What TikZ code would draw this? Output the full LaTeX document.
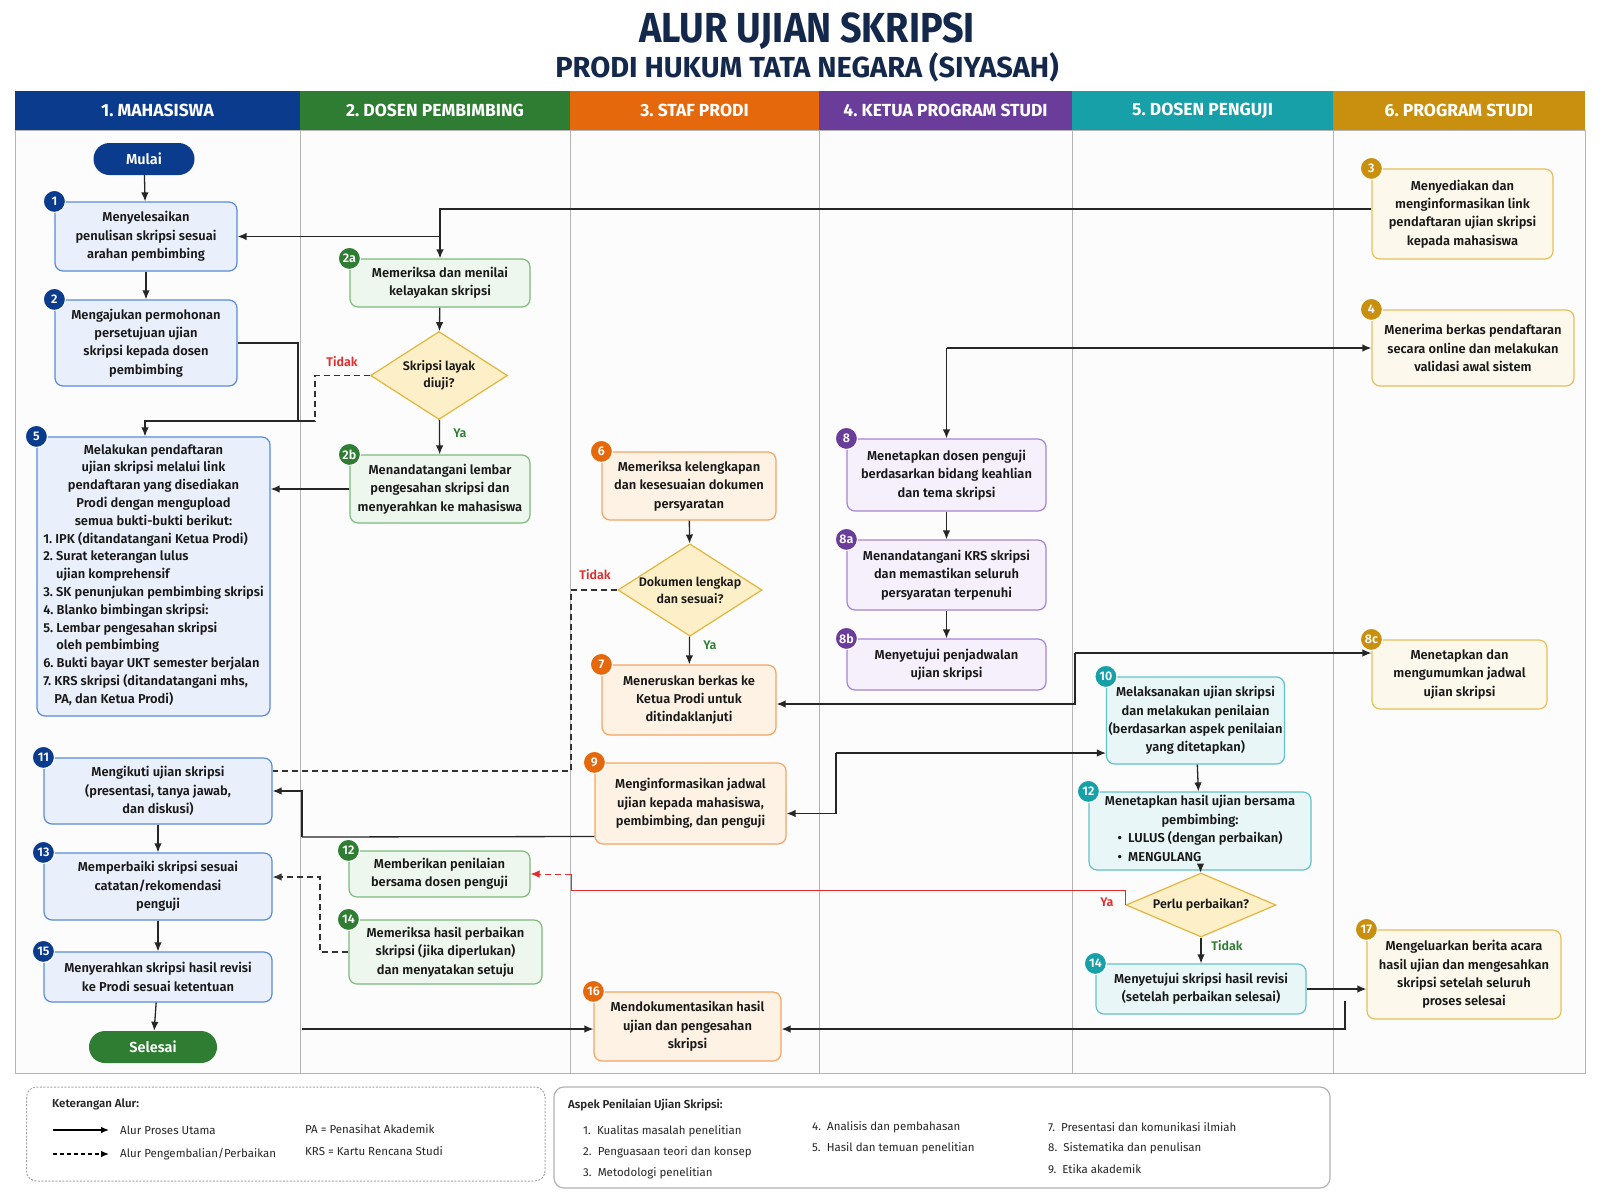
\documentclass[tikz,border=0pt]{standalone}
\usepackage{fontspec}
\setmainfont{Fira Sans}[BoldFont={Fira Sans SemiBold}]
\newfontfamily\titlefont{Fira Sans}[FakeStretch=0.9]
\newfontfamily\headfont{Fira Sans}
\usetikzlibrary{arrows.meta,shapes.geometric}

\definecolor{cTitle}{HTML}{14284B}
\definecolor{cNavy}{HTML}{0B3B8C}
\definecolor{cGreen}{HTML}{2E7D32}
\definecolor{cOrange}{HTML}{E5680C}
\definecolor{cPurple}{HTML}{6A3D9A}
\definecolor{cTeal}{HTML}{17A0A8}
\definecolor{cGold}{HTML}{C8900E}
\definecolor{fBlue}{HTML}{E9F0FB}
\definecolor{dBlue}{HTML}{5A8BD8}
\definecolor{fGreen}{HTML}{EEF7EE}
\definecolor{dGreen}{HTML}{7DBA7D}
\definecolor{fOrange}{HTML}{FEF2E4}
\definecolor{dOrange}{HTML}{F2A563}
\definecolor{fPurple}{HTML}{F5F0FB}
\definecolor{dPurple}{HTML}{A585D3}
\definecolor{fTeal}{HTML}{E8F6F7}
\definecolor{dTeal}{HTML}{62C2C8}
\definecolor{fGold}{HTML}{FDF8EC}
\definecolor{dGold}{HTML}{E6BF5C}
\definecolor{fYel}{HTML}{FDF0C8}
\definecolor{dYel}{HTML}{E2B53C}
\definecolor{cRed}{HTML}{E52B2B}
\definecolor{cLine}{HTML}{B4B4B4}

\tikzset{
    TT/.style ={text=cTitle, font=\titlefont\bfseries\fontsize{42}{44}\selectfont},
    ST/.style ={text=cTitle, font=\headfont\bfseries\fontsize{29}{32}\selectfont},
    HD/.style ={rectangle, minimum height=39, inner sep=0pt, text=white, font=\headfont\bfseries\fontsize{17.5}{20}\selectfont},
    BX/.style ={rectangle, rounded corners=8pt, line width=1.2pt, align=center, inner sep=2pt, text=black!90, font=\bfseries\fontsize{12.9}{18.4}\selectfont},
    BX1/.style ={BX, draw=dBlue, fill=fBlue},
    BX2/.style ={BX, draw=dGreen, fill=fGreen},
    BX3/.style ={BX, draw=dOrange, fill=fOrange},
    BX4/.style ={BX, draw=dPurple, fill=fPurple},
    BX5/.style ={BX, draw=dTeal, fill=fTeal},
    BX6/.style ={BX, draw=dGold, fill=fGold},
    DM/.style ={diamond, draw=dYel, fill=fYel, line width=1.2pt, align=center, inner sep=0pt, text=black!90, font=\bfseries\fontsize{12.5}{17}\selectfont},
    BG/.style ={circle, minimum size=22pt, inner sep=1pt, draw=white, line width=1pt, text=white, font=\bfseries\fontsize{12.5}{13}\selectfont},
    PL/.style ={rectangle, rounded corners=16pt, minimum height=32, text=white, font=\bfseries\fontsize{14.5}{16}\selectfont},
    LB/.style ={font=\bfseries\fontsize{12.5}{14}\selectfont},
    LG/.style ={anchor=west, inner sep=0pt, text=black!85, font=\fontsize{11.5}{13}\selectfont},
    FL/.style ={draw=black!85, line width=1.3pt, ->},
    LN/.style ={draw=black!85, line width=1.3pt},
    BK/.style ={draw=black!80, line width=1.2pt, dash pattern=on 6pt off 4pt},
    RD/.style ={draw=cRed, line width=1pt}}

\begin{document}
\frenchspacing
\begin{tikzpicture}[x=1pt,y=-1pt,>={Latex[length=9pt,width=7.5pt]}]
        \useasboundingbox (0,0) rectangle (1600,1200);
        \fill[white] (0,0) rectangle (1600,1200);
        % judul
        \node[TT] (title) at (807,31) {ALUR UJIAN SKRIPSI};
        \node[ST] (sub) at (807,67) {PRODI HUKUM TATA NEGARA (SIYASAH)};
        % lajur
        \fill[black!1] (15,130) rectangle (1585,1073);
        \draw[cLine, line width=1pt] (15,130) rectangle (1585,1073);
        \draw[cLine, line width=1pt] (300,130) -- (300,1073);
        \draw[cLine, line width=1pt] (570,130) -- (570,1073);
        \draw[cLine, line width=1pt] (819,130) -- (819,1073);
        \draw[cLine, line width=1pt] (1072,130) -- (1072,1073);
        \draw[cLine, line width=1pt] (1333,130) -- (1333,1073);
        \node[HD, fill=cNavy, minimum width=285] (h1) at (157.5,110.5) {1. MAHASISWA};
        \node[HD, fill=cGreen, minimum width=270] (h2) at (435,110.5) {2. DOSEN PEMBIMBING};
        \node[HD, fill=cOrange, minimum width=249] (h3) at (694.5,110.5) {3. STAF PRODI};
        \node[HD, fill=cPurple, minimum width=253] (h4) at (945.5,110.5) {4. KETUA PROGRAM STUDI};
        \node[HD, fill=cTeal, minimum width=261] (h5) at (1202.5,110.5) {5. DOSEN PENGUJI};
        \node[HD, fill=cGold, minimum width=252] (h6) at (1459,110.5) {6. PROGRAM STUDI};
        % 1. mahasiswa
        \node[PL, fill=cNavy, minimum width=101] (mulai) at (144,159) {Mulai};
        \node[BX1, minimum width=182, minimum height=69] (1) at (146,236.5) {Menyelesaikan\\penulisan skripsi sesuai\\arahan pembimbing};
        \node[BX1, minimum width=182, minimum height=86] (2) at (146,343) {Mengajukan permohonan\\persetujuan ujian\\skripsi kepada dosen\\pembimbing};
        \node[BX1, minimum width=233, minimum height=279, font=\bfseries\fontsize{12.9}{17.8}\selectfont] (5) at (153.5,576.5) {Melakukan pendaftaran\\ujian skripsi melalui link\\pendaftaran yang disediakan\\Prodi dengan mengupload\\semua bukti-bukti berikut:\\
            \begin{tabular}[t]{@{}l@{}}1. IPK (ditandatangani Ketua Prodi)\\2. Surat keterangan lulus\\\phantom{2. }ujian komprehensif\\3. SK penunjukan pembimbing skripsi\\4. Blanko bimbingan skripsi:\\5. Lembar pengesahan skripsi\\\phantom{5. }oleh pembimbing\\6. Bukti bayar UKT semester berjalan\\7. KRS skripsi (ditandatangani mhs,\\\phantom{7. }PA, dan Ketua Prodi)\end{tabular}};
        \node[BX1, minimum width=228, minimum height=66] (11) at (158,791) {Mengikuti ujian skripsi\\(presentasi, tanya jawab,\\dan diskusi)};
        \node[BX1, minimum width=228, minimum height=67] (13) at (158,886.5) {Memperbaiki skripsi sesuai\\catatan/rekomendasi\\penguji};
        \node[BX1, minimum width=228, minimum height=50] (15) at (158,977) {Menyerahkan skripsi hasil revisi\\ke Prodi sesuai ketentuan};
        \node[PL, fill=cGreen, minimum width=128] (selesai) at (153,1047) {Selesai};
        % 2. dosen pembimbing
        \node[BX2, minimum width=180, minimum height=48] (2a) at (440,283) {Memeriksa dan menilai\\kelayakan skripsi};
        \node[DM, aspect=1.56, minimum width=137, minimum height=88] (d1) at (439,375.5) {Skripsi layak\\diuji?};
        \node[BX2, minimum width=180, minimum height=68] (2b) at (440,489) {Menandatangani lembar\\pengesahan skripsi dan\\menyerahkan ke mahasiswa};
        \node[BX2, minimum width=181, minimum height=46] (12g) at (439.5,874) {Memberikan penilaian\\bersama dosen penguji};
        \node[BX2, minimum width=193, minimum height=64] (14g) at (445.5,952) {Memeriksa hasil perbaikan\\skripsi (jika diperlukan)\\dan menyatakan setuju};
        % 3. staf prodi
        \node[BX3, minimum width=174, minimum height=68] (6) at (689,486) {Memeriksa kelengkapan\\dan kesesuaian dokumen\\persyaratan};
        \node[DM, aspect=1.56, minimum width=140, minimum height=90] (d2) at (690,590) {Dokumen lengkap\\dan sesuai?};
        \node[BX3, minimum width=174, minimum height=70] (7) at (689,700) {Meneruskan berkas ke\\Ketua Prodi untuk\\ditindaklanjuti};
        \node[BX3, minimum width=191, minimum height=81] (9) at (690.5,803.5) {Menginformasikan jadwal\\ujian kepada mahasiswa,\\pembimbing, dan penguji};
        \node[BX3, minimum width=187, minimum height=69] (16) at (687.5,1026.5) {Mendokumentasikan hasil\\ujian dan pengesahan\\skripsi};
        % 4. ketua program studi
        \node[BX4, minimum width=199, minimum height=72] (8) at (946.5,475) {Menetapkan dosen penguji\\berdasarkan bidang keahlian\\dan tema skripsi};
        \node[BX4, minimum width=199, minimum height=70] (8a) at (946.5,575) {Menandatangani KRS skripsi\\dan memastikan seluruh\\persyaratan terpenuhi};
        \node[BX4, minimum width=199, minimum height=51] (8b) at (946.5,664.5) {Menyetujui penjadwalan\\ujian skripsi};
        % 5. dosen penguji
        \node[BX5, minimum width=173, minimum height=87] (10) at (1195.5,720.5) {Melaksanakan ujian skripsi\\dan melakukan penilaian\\(berdasarkan aspek penilaian\\yang ditetapkan)};
        \node[BX5, minimum width=222, minimum height=78] (12t) at (1200,831) {Menetapkan hasil ujian bersama\\pembimbing:\\\begin{tabular}[t]{@{}l@{}}\textbullet\ \ LULUS (dengan perbaikan)\\\textbullet\ \ MENGULANG\end{tabular}};
        \node[DM, aspect=2.34, minimum width=150, minimum height=64] (d3) at (1201,905) {Perlu perbaikan?};
        \node[BX5, minimum width=210, minimum height=50] (14t) at (1201,989) {Menyetujui skripsi hasil revisi\\(setelah perbaikan selesai)};
        % 6. program studi
        \node[BX6, minimum width=181, minimum height=90] (3) at (1462.5,214) {Menyediakan dan\\menginformasikan link\\pendaftaran ujian skripsi\\kepada mahasiswa};
        \node[BX6, minimum width=202, minimum height=76] (4) at (1473,348) {Menerima berkas pendaftaran\\secara online dan melakukan\\validasi awal sistem};
        \node[BX6, minimum width=175, minimum height=69] (8c) at (1459.5,674.5) {Menetapkan dan\\mengumumkan jadwal\\ujian skripsi};
        \node[BX6, minimum width=194, minimum height=89] (17) at (1464,974.5) {Mengeluarkan berita acara\\hasil ujian dan mengesahkan\\skripsi setelah seluruh\\proses selesai};
        % nomor langkah
        \node[BG, fill=cNavy] (b1) at (1.north west) {1};
        \node[BG, fill=cNavy] (b2) at (2.north west) {2};
        \node[BG, fill=cNavy] (b5) at (5.north west) {5};
        \node[BG, fill=cNavy] (b11) at (11.north west) {11};
        \node[BG, fill=cNavy] (b13) at (13.north west) {13};
        \node[BG, fill=cNavy] (b15) at (15.north west) {15};
        \node[BG, fill=cGreen] (b2a) at (2a.north west) {2a};
        \node[BG, fill=cGreen] (b2b) at (2b.north west) {2b};
        \node[BG, fill=cGreen] (b12g) at (12g.north west) {12};
        \node[BG, fill=cGreen] (b14g) at (14g.north west) {14};
        \node[BG, fill=cOrange] (b6) at (6.north west) {6};
        \node[BG, fill=cOrange] (b7) at (7.north west) {7};
        \node[BG, fill=cOrange] (b9) at (9.north west) {9};
        \node[BG, fill=cOrange] (b16) at (16.north west) {16};
        \node[BG, fill=cPurple] (b8) at (8.north west) {8};
        \node[BG, fill=cPurple] (b8a) at (8a.north west) {8a};
        \node[BG, fill=cPurple] (b8b) at (8b.north west) {8b};
        \node[BG, fill=cTeal] (b10) at (10.north west) {10};
        \node[BG, fill=cTeal] (b12t) at (12t.north west) {12};
        \node[BG, fill=cTeal] (b14t) at (14t.north west) {14};
        \node[BG, fill=cGold] (b3) at (3.north west) {3};
        \node[BG, fill=cGold] (b4) at (4.north west) {4};
        \node[BG, fill=cGold] (b8c) at (8c.north west) {8c};
        \node[BG, fill=cGold] (b17) at (17.north west) {17};
        % titik belok
        \coordinate (j2) at (298,421);
        \coordinate (j2b) at (315,421);
        \coordinate (j4) at (8.north |- 4.west);
        \coordinate (j6) at (571,771);
        \coordinate (j8) at (1075,653);
        \coordinate (j9) at (836,753);
        \coordinate (j11) at (302,837);
        \coordinate (j12) at (571,890);
        \coordinate (j12c) at (571,874);
        \coordinate (j14) at (320,877);
        \coordinate (j15) at (302,1029);
        \coordinate (j16) at (1345,1001);
        % alur
        \draw[FL] (mulai) -- (1);
        \draw[FL] (1) -- (2);
        \draw[FL] ([yshift=5pt]3.west) -| (2a.north);
        \draw[FL] (2a.north |- 1.east) -- (1.east);
        \draw[LN] (2.east) -| (j2) -- (j2b);
        \draw[FL] (j2b) -| ([xshift=-8.5pt]5.north);
        \draw[BK] (d1.west) -| (j2b);
        \draw[FL] (2a) -- (d1);
        \draw[FL] (d1) -- (2b);
        \draw[FL] (2b.west) -- (2b.west -| 5.east);
        \draw[FL] (j4) -- (4.west);
        \draw[FL] (j4) -- (8.north);
        \draw[FL] (6) -- (d2);
        \draw[FL] (d2) -- (7);
        \draw[BK] (d2.west) -| (j6) -- (j6 -| 11.east);
        \draw[FL] (8) -- (8a);
        \draw[FL] (8a) -- (8b);
        \draw[FL] (j8) -- (j8 -| 8c.west);
        \draw[FL] (j8) |- ([yshift=-4pt]7.east);
        \draw[FL] (j9) -- (j9 -| 10.west);
        \draw[FL] (j9) |- ([yshift=-10pt]9.east);
        \draw[LN] ([yshift=-33pt]9.west) -- (j11);
        \draw[FL] (j11) |- (11.east);
        \draw[FL] (10) -- (12t);
        \draw[FL] (12t) -- (d3);
        \draw[FL] (d3) -- (14t);
        \draw[RD] (d3.west) |- (j12) -- (j12c);
        \draw[RD, dash pattern=on 6pt off 4pt, ->] (j12c) -- (12g.east);
        \draw[BK, ->] (14g.west) -| (j14) -- (j14 -| 13.east);
        \draw[FL] (11) -- (13);
        \draw[FL] (13) -- (15);
        \draw[FL] (15) -- (selesai);
        \draw[FL] (14t.east) -- (14t.east -| 17.west);
        \draw[FL] (j16) |- ([yshift=-2.5pt]16.east);
        \draw[FL] (j15) -- (j15 -| 16.west);
        % label keputusan
        \node[LB, text=cRed] (t1) at (342,362) {Tidak};
        \node[LB, text=cGreen] (y1) at (460,433) {Ya};
        \node[LB, text=cRed] (t2) at (595,574.5) {Tidak};
        \node[LB, text=cGreen] (y2) at (710,645) {Ya};
        \node[LB, text=cRed] (y3) at (1107,902) {Ya};
        \node[LB, text=cGreen] (t3) at (1227,946) {Tidak};
        % keterangan
        \draw[black!35, line width=1pt, dash pattern=on 2pt off 1.5pt, rounded corners=10pt] (26.5,1087) rectangle (545,1181);
        \draw[black!30, line width=1.2pt, rounded corners=10pt] (554,1087) rectangle (1330,1188);
        \node[LG, font=\bfseries\fontsize{11.5}{13}\selectfont] (k0) at (52,1104) {Keterangan Alur:};
        \coordinate (k1a) at (53,1130);
        \coordinate (k1b) at (109,1130);
        \coordinate (k2a) at (53,1154);
        \coordinate (k2b) at (109,1154);
        \draw[black, line width=1.2pt, ->, >={Latex[length=8pt,width=6.5pt]}] (k1a) -- (k1b);
        \draw[black, line width=1.2pt, dash pattern=on 4pt off 3pt, ->, >={Latex[length=8pt,width=6.5pt]}] (k2a) -- (k2b);
        \node[LG] (k1) at (120,1130) {Alur Proses Utama};
        \node[LG] (k2) at (120,1154) {Alur Pengembalian/Perbaikan};
        \node[LG] (k3) at (305,1129) {PA = Penasihat Akademik};
        \node[LG] (k4) at (305,1151) {KRS = Kartu Rencana Studi};
        \node[LG, font=\bfseries\fontsize{11.5}{13}\selectfont] (a0) at (568,1105) {Aspek Penilaian Ujian Skripsi:};
        \node[LG] (a1) at (583,1131) {1.\ \ Kualitas masalah penelitian};
        \node[LG] (a2) at (583,1152) {2.\ \ Penguasaan teori dan konsep};
        \node[LG] (a3) at (583,1173) {3.\ \ Metodologi penelitian};
        \node[LG] (a4) at (812,1127) {4.\ \ Analisis dan pembahasan};
        \node[LG] (a5) at (812,1148) {5.\ \ Hasil dan temuan penelitian};
        \node[LG] (a6) at (1048,1127) {7.\ \ Presentasi dan komunikasi ilmiah};
        \node[LG] (a7) at (1048,1148) {8.\ \ Sistematika dan penulisan};
        \node[LG] (a8) at (1048,1169) {9.\ \ Etika akademik};
    \end{tikzpicture}
\end{document}
